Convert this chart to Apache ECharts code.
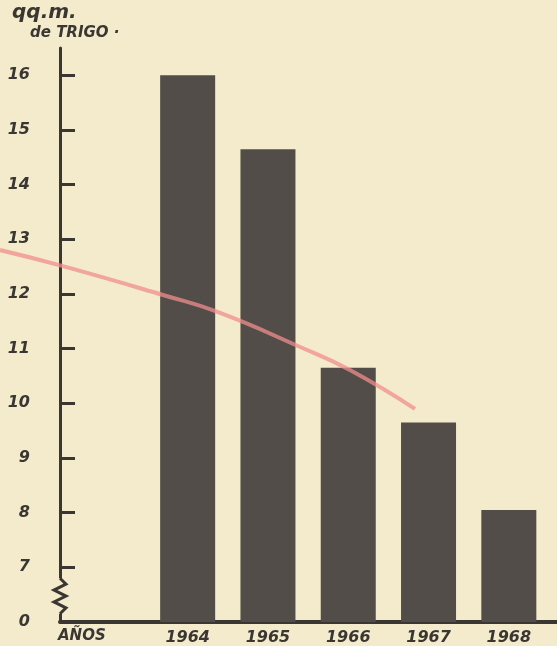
<!DOCTYPE html>
<html>
<head>
<meta charset="utf-8">
<script src="https://cdn.jsdelivr.net/npm/echarts@6/dist/echarts.min.js"></script>
<style>
html,body{margin:0;padding:0;background:#f3ebcb;}
#c{width:557px;height:646px;}
</style>
</head>
<body>
<div id="c"></div>
<script>
// Data
const years = [1964, 1965, 1966, 1967, 1968];
const production = [16.0, 14.65, 10.65, 9.65, 8.05]; // qq.m. de trigo
const yTicks = [7, 8, 9, 10, 11, 12, 13, 14, 15, 16];
const yLabelValues = [6, 7, 8, 9, 10, 11, 12, 13, 14, 15, 16];
// pink trend line drawn over the bars (x in years, y in qq.m.)
const trendX = [1961.66, 1962.41, 1963.69, 1964.37, 1965.40, 1966.02, 1966.83];
const trendY = [12.81, 12.53, 11.99, 11.68, 11.04, 10.62, 9.91];

const ink = '#3a3733';
const barColor = '#524d48';
const labelFont = { fontFamily: 'DejaVu Sans', fontStyle: 'italic', fontWeight: 'bold' };

const chart = echarts.init(document.getElementById('c'));
chart.setOption({
  backgroundColor: '#f3ebcb',
  animation: false,
  grid: [
    { left: 60, right: 0, top: 48, bottom: 23, containLabel: false },
    { left: 0, right: 0, top: 48, bottom: 23, containLabel: false }
  ],
  xAxis: [{
    type: 'value', min: 1962.41, max: 1968.6, gridIndex: 0,
    splitLine: { show: false },
    axisTick: { show: false },
    axisLine: { show: true, lineStyle: { color: ink, width: 4 } },
    axisLabel: {
      customValues: years, color: ink, fontSize: 16, margin: 8, ...labelFont,
      formatter: v => String(Math.round(v))
    }
  }, {
    type: 'value', min: 1961.66, max: 1968.6, gridIndex: 1, show: false
  }],
  yAxis: [{
    type: 'value', min: 6, max: 16.5, gridIndex: 0,
    splitLine: { show: false },
    axisLine: { show: true, lineStyle: { color: ink, width: 3 } },
    axisTick: { show: true, inside: true, length: 15, customValues: yTicks, lineStyle: { color: ink, width: 3 } },
    axisLabel: {
      customValues: yLabelValues, color: ink, fontSize: 16, margin: 30, align: 'right', ...labelFont,
      formatter: v => (v === 6 ? '0' : String(v))
    }
  }, {
    type: 'value', min: 6, max: 16.5, gridIndex: 1, show: false
  }],
  series: [
    {
      type: 'bar', barWidth: 55, xAxisIndex: 0, yAxisIndex: 0,
      data: years.map((y, i) => [y, production[i]]),
      itemStyle: { color: barColor },
      z: 2
    },
    {
      type: 'line', smooth: true, symbol: 'none', xAxisIndex: 1, yAxisIndex: 1,
      data: trendX.map((x, i) => [x, trendY[i]]),
      lineStyle: { color: '#f08e8e', width: 4, opacity: 0.75 },
      z: 3
    }
  ]
});

// decorations: axis title and break squiggle
const p0 = chart.convertToPixel({ gridIndex: 0 }, [1962.41, 6.15]);
const p1 = chart.convertToPixel({ gridIndex: 0 }, [1962.41, 6.8]);
const ax = p0[0];
const zig = [];
const n = 6;
for (let i = 0; i <= n; i++) {
  const y = p1[1] + (p0[1] - p1[1]) * i / n;
  const dx = i === 0 || i === n ? 0 : (i % 2 ? 6 : -6);
  zig.push([ax + dx, y]);
}
chart.setOption({
  graphic: [
    { type: 'rect', shape: { x: ax - 3, y: p1[1], width: 6, height: p0[1] - p1[1] }, style: { fill: '#f3ebcb' }, z: 10 },
    { type: 'polyline', shape: { points: zig }, style: { stroke: ink, lineWidth: 3, fill: null }, z: 11 },
    { type: 'text', left: 12, top: 3, style: { text: 'qq.m.', fill: ink, fontSize: 20, ...labelFont }, z: 11 },
    { type: 'text', left: 30, top: 26, style: { text: 'de TRIGO ·', fill: ink, fontSize: 15, ...labelFont }, z: 11 },
    { type: 'text', left: 58, top: 629, style: { text: 'AÑOS', fill: ink, fontSize: 15, ...labelFont }, z: 11 }
  ]
});
</script>
</body>
</html>
